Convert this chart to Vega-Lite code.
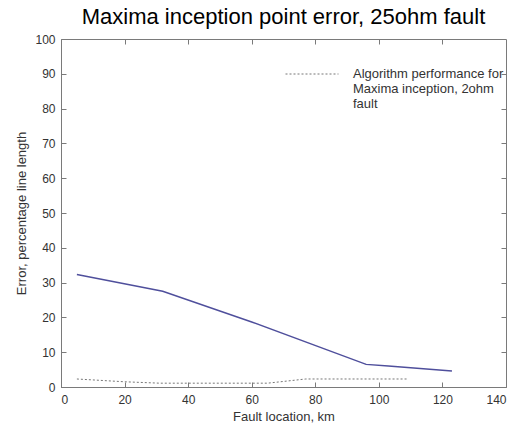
{
  "$schema": "https://vega.github.io/schema/vega-lite/v6.json",
  "width": 445,
  "height": 348,
  "autosize": {"type": "none"},
  "padding": {"left": 61, "top": 39, "right": 15, "bottom": 39},
  "background": "white",
  "title": {
    "text": "Maxima inception point error, 25ohm fault",
    "font": "Liberation Sans",
    "fontSize": 22,
    "fontWeight": "normal",
    "color": "#000000",
    "anchor": "middle",
    "offset": -13,
    "baseline": "alphabetic"
  },
  "config": {
    "view": {"stroke": "#7a7a7a", "strokeWidth": 1},
    "axis": {
      "labelFont": "Liberation Sans",
      "labelFontSize": 12,
      "labelColor": "#333333",
      "titleFont": "Liberation Sans",
      "titleFontSize": 13,
      "titleFontWeight": "normal",
      "titleColor": "#333333",
      "domainColor": "#7a7a7a",
      "tickColor": "#7a7a7a",
      "tickSize": -5,
      "grid": false
    }
  },
  "data": {
    "values": [
      {"series": "25ohm fault", "x": 5, "y": 32.3},
      {"series": "25ohm fault", "x": 32, "y": 27.5},
      {"series": "25ohm fault", "x": 60, "y": 18.7},
      {"series": "25ohm fault", "x": 96, "y": 6.5},
      {"series": "25ohm fault", "x": 103, "y": 6.0},
      {"series": "25ohm fault", "x": 123, "y": 4.6},
      {"series": "Algorithm performance for Maxima inception, 2ohm fault", "x": 5, "y": 2.3},
      {"series": "Algorithm performance for Maxima inception, 2ohm fault", "x": 20, "y": 1.5},
      {"series": "Algorithm performance for Maxima inception, 2ohm fault", "x": 31, "y": 1.1},
      {"series": "Algorithm performance for Maxima inception, 2ohm fault", "x": 65, "y": 1.1},
      {"series": "Algorithm performance for Maxima inception, 2ohm fault", "x": 77, "y": 2.3},
      {"series": "Algorithm performance for Maxima inception, 2ohm fault", "x": 109, "y": 2.3}
    ]
  },
  "layer": [
    {
      "transform": [{"filter": "datum.series === '25ohm fault'"}],
      "mark": {"type": "line", "color": "#4f4f9c", "strokeWidth": 1.5},
      "encoding": {
        "x": {
          "field": "x", "type": "quantitative",
          "scale": {"domain": [0, 140], "nice": false},
          "axis": {"orient": "bottom", "values": [0, 20, 40, 60, 80, 100, 120, 140], "title": "Fault location, km", "labelPadding": 12, "titlePadding": 5}
        },
        "y": {
          "field": "y", "type": "quantitative",
          "scale": {"domain": [0, 100], "nice": false},
          "axis": {"orient": "left", "values": [0, 10, 20, 30, 40, 50, 60, 70, 80, 90, 100], "title": "Error, percentage line length", "labelPadding": 11, "titlePadding": 6}
        }
      }
    },
    {
      "transform": [{"filter": "datum.series !== '25ohm fault'"}],
      "mark": {"type": "line", "color": "#777777", "strokeWidth": 1},
      "encoding": {
        "x": {
          "field": "x", "type": "quantitative",
          "axis": {"orient": "top", "values": [20, 40, 60, 80, 100, 120], "labels": false, "title": null, "domain": false}
        },
        "y": {
          "field": "y", "type": "quantitative",
          "axis": {"orient": "right", "values": [10, 20, 30, 40, 50, 60, 70, 80, 90], "labels": false, "title": null, "domain": false}
        },
        "strokeDash": {
          "field": "series", "type": "nominal",
          "scale": {"range": [[2, 2]]},
          "legend": {
            "orient": "none",
            "legendX": 224,
            "legendY": 8,
            "padding": 0,
            "title": null,
            "symbolType": "stroke",
            "symbolSize": 2809,
            "symbolStrokeColor": "#777777",
            "symbolStrokeWidth": 1,
            "symbolDash": [2, 2],
            "labelFont": "Liberation Sans",
            "labelFontSize": 13,
            "labelColor": "#333333",
            "labelOffset": 14,
            "labelLimit": 300,
            "labelBaseline": "middle",
            "labelExpr": "['Algorithm performance for', 'Maxima inception, 2ohm', 'fault']"
          }
        }
      }
    }
  ],
  "resolve": {"axis": {"x": "independent", "y": "independent"}}
}
